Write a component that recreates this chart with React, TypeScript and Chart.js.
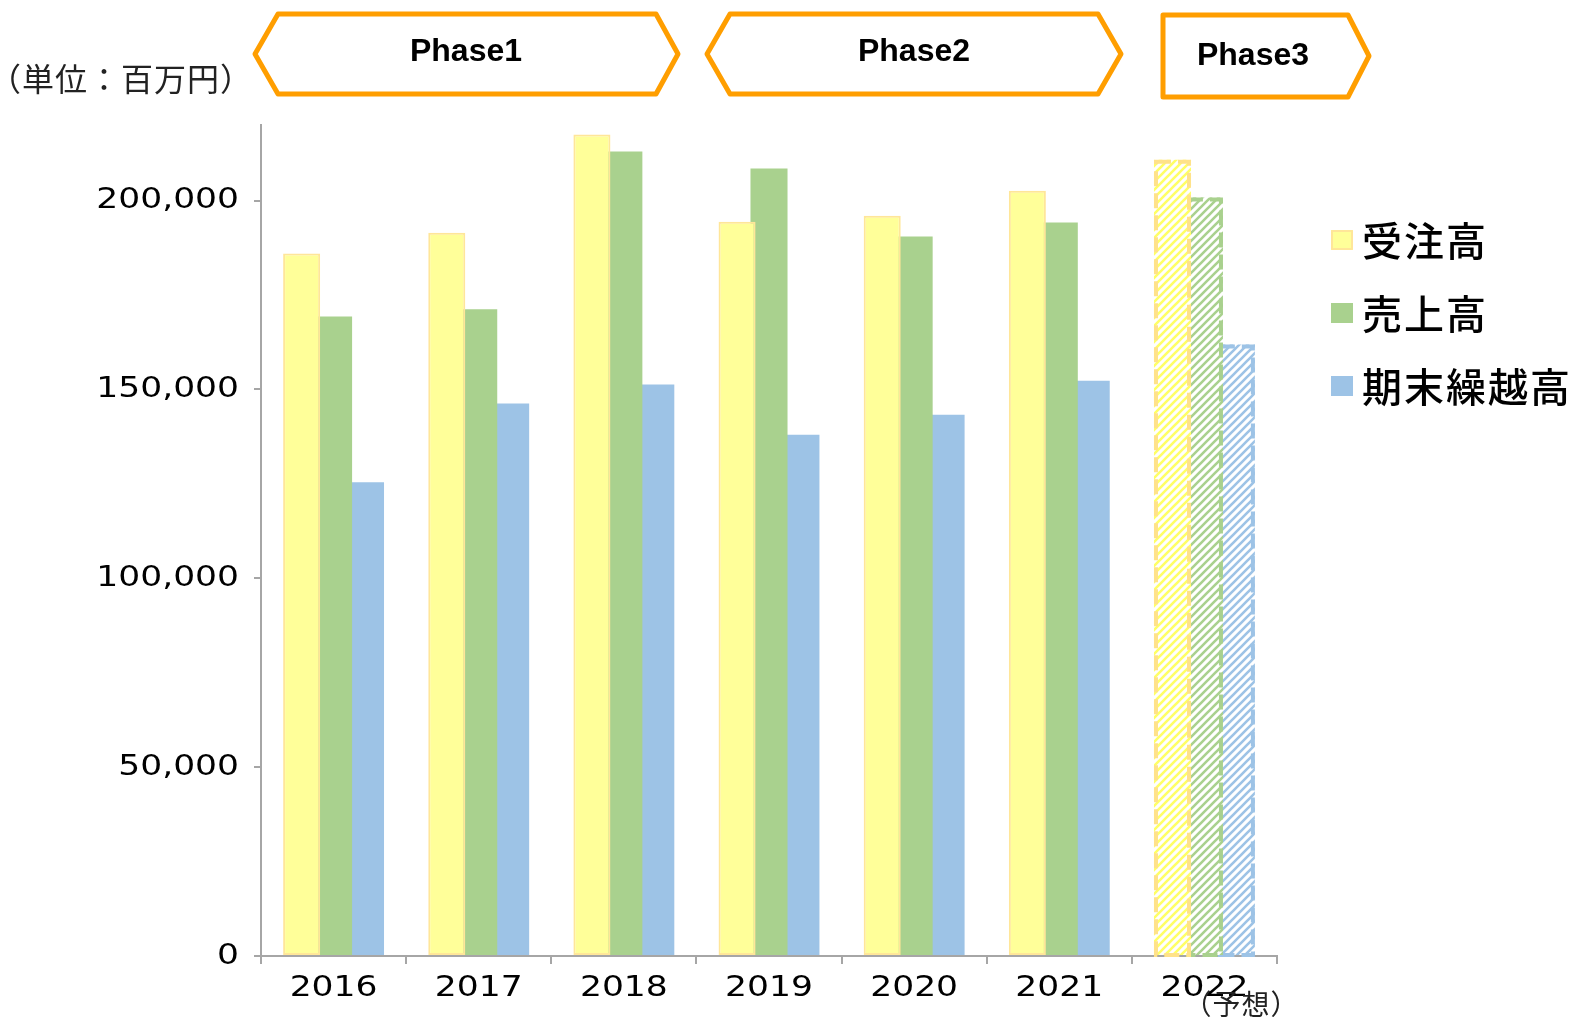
import React, { useEffect, useRef } from 'react';
import { Chart, registerables } from 'chart.js';

Chart.register(...registerables);

// ---- data ----
const years = ['2016', '2017', '2018', '2019', '2020', '2021', '2022'];
const forecastIndex = 6;
const forecastNote = '（予想）';
const seriesNames = ['受注高', '売上高', '期末繰越高'];
const orders = [186000, 191500, 217500, 194400, 196000, 202600, 210800];
const sales = [169300, 171200, 213000, 208500, 190500, 194200, 200800];
const backlog = [125400, 146300, 151300, 138000, 143300, 152300, 161900];
const yTicks = [0, 50000, 100000, 150000, 200000];
const yMax = 220000;
const unitLabel = '（単位：百万円）';
const phaseLabels = ['Phase1', 'Phase2', 'Phase3'];

// ---- styles ----
const fillColors = ['#FFFF99', '#A9D18E', '#9DC3E6'];
const borderColors = ['#FFE699', '#A9D18E', '#9DC3E6'];
const stripeColors = ['#FFFF66', '#A9D18E', '#9DC3E6'];
const dashColors = ['#FFE28A', '#A9D18E', '#9DC3E6'];
const axisColor = '#A6A6A6';
const orange = '#FF9E00';
const numFont = '29px "DejaVu Sans", sans-serif';
const numStretch = 1.19;
const jpFont = '"Noto Sans CJK JP", sans-serif';
const fmt = (v: number) => Number(v).toLocaleString('en-US');

export default function App() {
  const ref = useRef<HTMLCanvasElement>(null);

  useEffect(() => {
    const canvas = ref.current!;
    const mainCtx = canvas.getContext('2d')!;

    const hatch = (color: string) => {
      const c = document.createElement('canvas');
      c.width = 8;
      c.height = 8;
      const g = c.getContext('2d')!;
      g.fillStyle = '#ffffff';
      g.fillRect(0, 0, 8, 8);
      g.strokeStyle = color;
      g.lineWidth = 2.6;
      g.beginPath();
      g.moveTo(0, 8); g.lineTo(8, 0);
      g.moveTo(-4, 4); g.lineTo(4, -4);
      g.moveTo(4, 12); g.lineTo(12, 4);
      g.stroke();
      return mainCtx.createPattern(c, 'repeat')!;
    };
    const patterns = stripeColors.map(hatch);

    const seriesData = [orders, sales, backlog];
    const datasets = seriesData.map((d, i) => ({
      label: seriesNames[i],
      data: d,
      backgroundColor: years.map((_, j) => (j === forecastIndex ? patterns[i] : fillColors[i])) as any,
      borderColor: borderColors[i],
      borderWidth: years.map((_, j) => (j === forecastIndex ? 0 : i === 0 ? 2 : 0)),
      borderSkipped: false as any,
      categoryPercentage: 0.66,
      barPercentage: 1.16,
    }));

    const polygon = (ctx: CanvasRenderingContext2D, pts: number[][]) => {
      ctx.beginPath();
      ctx.moveTo(pts[0][0], pts[0][1]);
      for (let k = 1; k < pts.length; k++) ctx.lineTo(pts[k][0], pts[k][1]);
      ctx.closePath();
      ctx.stroke();
    };

    const stretchText = (ctx: CanvasRenderingContext2D, text: string, x: number, y: number) => {
      ctx.save();
      ctx.translate(x, y);
      ctx.scale(numStretch, 1);
      ctx.fillText(text, 0, 0);
      ctx.restore();
    };

    const deco = {
      id: 'deco',
      afterDatasetDraw(c: any, args: any) {
        const i = args.index;
        const el = c.getDatasetMeta(i).data[forecastIndex];
        if (!el) return;
        const p = el.getProps(['x', 'y', 'base', 'width'], true);
        const ctx = c.ctx as CanvasRenderingContext2D;
        ctx.save();
        ctx.setLineDash([15, 7]);
        ctx.lineWidth = 4;
        ctx.strokeStyle = dashColors[i];
        const left = p.x - p.width / 2 + 2;
        ctx.strokeRect(left, p.y + 2, p.width - 4, p.base - p.y - 2);
        ctx.restore();
      },
      afterDraw(c: any) {
        const ctx = c.ctx as CanvasRenderingContext2D;
        ctx.save();

        // axis tick labels, placed by the library's scales
        const xs = c.scales.x;
        const ys = c.scales.y;
        ctx.fillStyle = '#000';
        ctx.font = numFont;
        ctx.textBaseline = 'middle';
        ctx.textAlign = 'right';
        ys.ticks.forEach((t: any) => {
          stretchText(ctx, fmt(t.value), ys.right - 22, ys.getPixelForValue(t.value));
        });
        ctx.textAlign = 'center';
        years.forEach((lab, j) => {
          stretchText(ctx, lab, xs.getPixelForValue(j), xs.top + 32);
        });

        // forecast note under last category label
        const fx = xs.getPixelForValue(forecastIndex);
        ctx.fillStyle = '#222';
        ctx.font = `28px ${jpFont}`;
        (ctx as any).letterSpacing = '1px';
        ctx.textAlign = 'center';
        ctx.textBaseline = 'middle';
        ctx.fillText(forecastNote, fx + 37, 1004);
        (ctx as any).letterSpacing = '0px';

        // unit label
        ctx.fillStyle = '#222';
        ctx.font = `32px ${jpFont}`;
        (ctx as any).letterSpacing = '1px';
        ctx.textAlign = 'left';
        ctx.textBaseline = 'middle';
        ctx.fillText(unitLabel, -11, 79);
        (ctx as any).letterSpacing = '0px';

        // phase banners
        ctx.strokeStyle = orange;
        ctx.lineWidth = 5;
        ctx.lineJoin = 'round';
        polygon(ctx, [[255, 54], [278, 14], [656, 14], [678, 54], [656, 94], [278, 94]]);
        polygon(ctx, [[707, 54], [730, 14], [1098, 14], [1121, 54], [1098, 94], [730, 94]]);
        polygon(ctx, [[1163, 15], [1348, 15], [1369, 56], [1348, 97], [1163, 97]]);
        ctx.fillStyle = '#000';
        ctx.font = `bold 32px "Liberation Sans", sans-serif`;
        ctx.textAlign = 'center';
        ctx.textBaseline = 'middle';
        ctx.fillText(phaseLabels[0], 466, 52);
        ctx.fillText(phaseLabels[1], 914, 52);
        ctx.fillText(phaseLabels[2], 1253, 56);

        // legend
        const rows = [240, 313, 386];
        seriesNames.forEach((name, i) => {
          const y = rows[i];
          ctx.fillStyle = fillColors[i];
          ctx.fillRect(1331, y - 10, 22, 20);
          if (i === 0) {
            ctx.strokeStyle = borderColors[0];
            ctx.lineWidth = 2;
            ctx.strokeRect(1332, y - 9, 20, 18);
          }
          ctx.fillStyle = '#000';
          ctx.font = `500 40px ${jpFont}`;
          (ctx as any).letterSpacing = '2px';
          ctx.textAlign = 'left';
          ctx.textBaseline = 'middle';
          ctx.fillText(name, 1362, y + 1);
          (ctx as any).letterSpacing = '0px';
        });
        ctx.restore();
      },
    };

    const chart = new Chart(canvas, {
      type: 'bar',
      data: { labels: years, datasets: datasets as any },
      options: {
        responsive: false,
        animation: false,
        layout: { padding: { top: 125, right: 301, left: 0, bottom: 0 } },
        plugins: { legend: { display: false }, tooltip: { enabled: false } },
        scales: {
          x: {
            grid: {
              display: true,
              drawOnChartArea: false,
              drawTicks: true,
              tickLength: 8,
              color: axisColor,
              lineWidth: 2,
              offset: true,
            },
            border: { display: true, color: axisColor, width: 2 },
            ticks: { display: false },
            afterFit: (s: any) => {
              s.height = 65;
            },
          },
          y: {
            min: 0,
            max: yMax,
            afterBuildTicks: (s: any) => {
              s.ticks = yTicks.map((v) => ({ value: v }));
            },
            grid: {
              display: true,
              drawOnChartArea: false,
              drawTicks: true,
              tickLength: 7,
              color: axisColor,
              lineWidth: 2,
            },
            border: { display: true, color: axisColor, width: 2 },
            ticks: { display: false, callback: (v: any) => fmt(v) },
            afterFit: (s: any) => {
              s.width = 261;
            },
          },
        },
      },
      plugins: [deco],
    });

    return () => chart.destroy();
  }, []);

  return (
    <div style={{ position: 'fixed', left: 0, top: 0, width: 1578, height: 1021, background: '#fff' }}>
      <canvas ref={ref} width={1578} height={1021} style={{ width: 1578, height: 1021, display: 'block' }} />
    </div>
  );
}
